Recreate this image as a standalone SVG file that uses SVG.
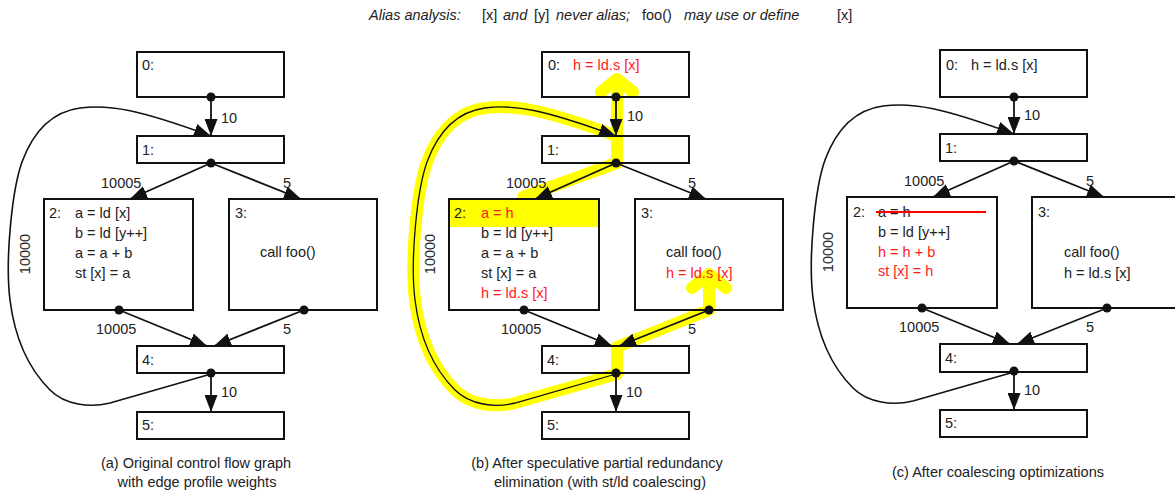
<svg xmlns="http://www.w3.org/2000/svg" width="1175" height="496" viewBox="0 0 1175 496">
<style>
text{font-family:"Liberation Sans",Arial,sans-serif;font-size:14.5px;fill:#222}
.it{font-style:italic}
.red{fill:#ff1a1a}
.box{fill:#fff;stroke:#111;stroke-width:2}
.bx{fill:none;stroke:#111;stroke-width:2}
.e{fill:none;stroke:#111;stroke-width:1.8}
.loop{fill:none;stroke:#111;stroke-width:1.6}
.dot{fill:#111}
.hl{fill:none;stroke:#ffff00;stroke-width:12;stroke-linecap:round;stroke-linejoin:round}
.cap{text-anchor:middle}
</style>
<defs>
<marker id="ah" markerUnits="userSpaceOnUse" markerWidth="18" markerHeight="13" refX="17" refY="6.5" orient="auto">
<path d="M0,0 L17,6.5 L0,13 z" fill="#111"/>
</marker>
</defs>
<rect width="1175" height="496" fill="#fff"/>
<g id="alias-note">
<text x="369" y="20" class="it">Alias analysis:</text>
<text x="482" y="20">[x]</text>
<text x="503" y="20" class="it">and</text>
<text x="534" y="20">[y]</text>
<text x="556" y="20" class="it">never alias;</text>
<text x="642" y="20">foo()</text>
<text x="684" y="20" class="it">may use or define</text>
<text x="837" y="20">[x]</text>
</g>

<!-- Panel (a) -->
<g id="panel-a">
<g id="a-connectors">
<path class="e" d="M211,97 L211,136" marker-end="url(#ah)"/>
<path class="e" d="M211,163 L130,199" marker-end="url(#ah)"/>
<path class="e" d="M211,163 L301,199" marker-end="url(#ah)"/>
<path class="e" d="M119,310 L207,346" marker-end="url(#ah)"/>
<path class="e" d="M304,310 L214,346" marker-end="url(#ah)"/>
<path class="e" d="M211,373 L211,412" marker-end="url(#ah)"/>
<path class="loop" d="M211,374 L110,403 C90,408 65,405 50,390 C30,370 15,340 10,300 C5,260 12,190 22,162 C32,135 50,112 80,108 C110,104 140,110 211,136" marker-end="url(#ah)"/>
<text x="221" y="123">10</text>
<text x="101" y="188">10005</text>
<text x="283" y="188">5</text>
<text x="96" y="334">10005</text>
<text x="283" y="334">5</text>
<text x="221" y="397">10</text>
<text transform="translate(30,254) rotate(-90)" class="cap">10000</text>
</g>
<g id="a-n0"><rect class="box" x="137" y="52" width="147" height="45"/><text x="142" y="70">0:</text></g>
<g id="a-n1"><rect class="box" x="137" y="136" width="147" height="27"/><text x="142" y="155">1:</text></g>
<g id="a-n2"><rect class="box" x="44" y="199" width="149" height="111"/><text x="49" y="218">2:</text>
<text x="75" y="218">a = ld [x]</text><text x="75" y="238">b = ld [y++]</text><text x="75" y="258">a = a + b</text><text x="75" y="278">st [x] = a</text></g>
<g id="a-n3"><rect class="box" x="229" y="199" width="148" height="111"/><text x="235" y="218">3:</text><text x="260" y="257">call foo()</text></g>
<g id="a-n4"><rect class="box" x="137" y="346" width="147" height="27"/><text x="142" y="365">4:</text></g>
<g id="a-n5"><rect class="box" x="137" y="412" width="147" height="27"/><text x="142" y="430">5:</text></g>
<g id="a-dots"><circle class="dot" cx="211" cy="97" r="4.5"/><circle class="dot" cx="211" cy="163" r="4.5"/><circle class="dot" cx="119" cy="310" r="4.5"/><circle class="dot" cx="304" cy="310" r="4.5"/><circle class="dot" cx="211" cy="373" r="4.5"/></g>
<text x="196" y="468" class="cap">(a) Original control flow graph</text>
<text x="197" y="487" class="cap">with edge profile weights</text>
</g>

<!-- Panel (b) -->
<g id="panel-b">
<g id="b-highlight">
<rect x="449" y="199" width="150" height="28" fill="#ffff00"/>
<path class="hl" d="M601,92 L617,79 L633,92 M617,79 L617,163 L523,197"/>
<path class="hl" d="M692,288 L709,274 L726,288 M709,274 L709,310 L617,347 L617,374 L515,403 C495,408 470,405 455,390 C435,370 420,340 415,300 C410,260 417,190 427,162 C437,135 455,112 485,108 C515,104 545,110 617,136"/>
</g>
<g id="b-connectors">
<path class="e" d="M616,97 L616,136" marker-end="url(#ah)"/>
<path class="e" d="M616,163 L535,199" marker-end="url(#ah)"/>
<path class="e" d="M616,163 L706,199" marker-end="url(#ah)"/>
<path class="e" d="M524,310 L612,346" marker-end="url(#ah)"/>
<path class="e" d="M709,310 L619,346" marker-end="url(#ah)"/>
<path class="e" d="M616,373 L616,412" marker-end="url(#ah)"/>
<path class="loop" style="stroke-width:1.3" d="M616,374 L515,403 C495,408 470,405 455,390 C435,370 420,340 415,300 C410,260 417,190 427,162 C437,135 455,112 485,108 C515,104 545,110 616,136" marker-end="url(#ah)"/>
<text x="627" y="121">10</text>
<text x="506" y="188">10005</text>
<text x="688" y="188">5</text>
<text x="501" y="334">10005</text>
<text x="688" y="334">5</text>
<text x="626" y="397">10</text>
<text transform="translate(435,254) rotate(-90)" class="cap">10000</text>
</g>
<g id="b-n0"><rect class="bx" x="542" y="52" width="147" height="45"/><text x="548" y="70">0:</text><text x="573" y="70" class="red">h = ld.s [x]</text></g>
<g id="b-n1"><rect class="bx" x="542" y="136" width="147" height="27"/><text x="547" y="155">1:</text></g>
<g id="b-n2"><rect class="bx" x="449" y="199" width="150" height="111"/><text x="454" y="218">2:</text>
<text x="481" y="218" class="red">a = h</text><text x="481" y="238">b = ld [y++]</text><text x="481" y="258">a = a + b</text><text x="481" y="278">st [x] = a</text><text x="481" y="298" class="red">h = ld.s [x]</text></g>
<g id="b-n3"><rect class="bx" x="635" y="199" width="148" height="111"/><text x="641" y="218">3:</text><text x="666" y="257">call foo()</text><text x="666" y="278" class="red">h = ld.s [x]</text></g>
<g id="b-n4"><rect class="bx" x="542" y="346" width="147" height="27"/><text x="547" y="365">4:</text></g>
<g id="b-n5"><rect class="bx" x="542" y="412" width="147" height="27"/><text x="547" y="430">5:</text></g>
<g id="b-dots"><circle class="dot" cx="616" cy="97" r="4.5"/><circle class="dot" cx="616" cy="163" r="4.5"/><circle class="dot" cx="524" cy="310" r="4.5"/><circle class="dot" cx="709" cy="310" r="4.5"/><circle class="dot" cx="616" cy="373" r="4.5"/></g>
<text x="597" y="468" class="cap">(b) After speculative partial redundancy</text>
<text x="600" y="487" class="cap">elimination (with st/ld coalescing)</text>
</g>

<!-- Panel (c) -->
<g id="panel-c">
<g id="c-connectors">
<path class="e" d="M1014,97 L1014,134" marker-end="url(#ah)"/>
<path class="e" d="M1014,161 L933,197" marker-end="url(#ah)"/>
<path class="e" d="M1014,161 L1104,197" marker-end="url(#ah)"/>
<path class="e" d="M922,308 L1010,344" marker-end="url(#ah)"/>
<path class="e" d="M1107,308 L1017,344" marker-end="url(#ah)"/>
<path class="e" d="M1014,371 L1014,410" marker-end="url(#ah)"/>
<path class="loop" d="M1014,372 L913,401 C893,406 868,403 853,388 C833,368 818,338 813,298 C808,258 815,188 825,160 C835,133 853,110 883,106 C913,102 943,108 1014,134" marker-end="url(#ah)"/>
<text x="1024" y="120">10</text>
<text x="904" y="186">10005</text>
<text x="1086" y="186">5</text>
<text x="899" y="332">10005</text>
<text x="1086" y="332">5</text>
<text x="1024" y="395">10</text>
<text transform="translate(833,252) rotate(-90)" class="cap">10000</text>
</g>
<g id="c-n0"><rect class="box" x="940" y="50" width="147" height="47"/><text x="946" y="70">0:</text><text x="971" y="70">h = ld.s [x]</text></g>
<g id="c-n1"><rect class="box" x="940" y="134" width="147" height="27"/><text x="945" y="153">1:</text></g>
<g id="c-n2"><rect class="box" x="847" y="197" width="150" height="111"/><text x="853" y="217">2:</text>
<text x="878" y="217">a = h</text><line x1="876" y1="212" x2="986" y2="212" stroke="#ff0000" stroke-width="2"/>
<text x="878" y="237">b = ld [y++]</text><text x="878" y="257" class="red">h = h + b</text><text x="878" y="276" class="red">st [x] = h</text></g>
<g id="c-n3"><rect class="box" x="1032" y="197" width="150" height="111"/><text x="1038" y="217">3:</text><text x="1064" y="257">call foo()</text><text x="1064" y="278">h = ld.s [x]</text></g>
<g id="c-n4"><rect class="box" x="940" y="344" width="147" height="28"/><text x="945" y="363">4:</text></g>
<g id="c-n5"><rect class="box" x="940" y="410" width="147" height="27"/><text x="945" y="428">5:</text></g>
<g id="c-dots"><circle class="dot" cx="1014" cy="97" r="4.5"/><circle class="dot" cx="1014" cy="161" r="4.5"/><circle class="dot" cx="922" cy="308" r="4.5"/><circle class="dot" cx="1107" cy="308" r="4.5"/><circle class="dot" cx="1014" cy="371" r="4.5"/></g>
<text x="998" y="477" class="cap">(c) After coalescing optimizations</text>
</g>
</svg>
